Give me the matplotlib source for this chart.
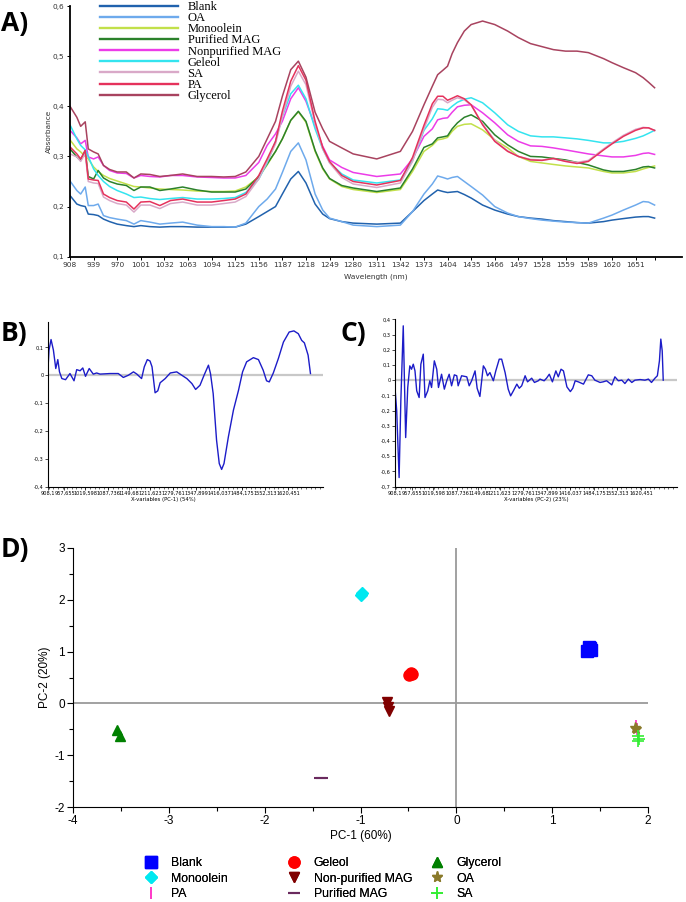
import numpy as np
import matplotlib.pyplot as plt
from matplotlib.ticker import MultipleLocator

plt.rcParams['axes.unicode_minus'] = False

# ---------- A) NIR spectra ----------
wl = [908, 917, 922, 928, 932, 939, 945, 952, 960, 970, 982, 992, 1001, 1013, 1026, 1040,
      1056, 1075, 1094, 1110, 1125, 1139, 1156, 1167, 1178, 1187, 1198, 1208, 1218, 1230,
      1240, 1249, 1265, 1280, 1311, 1342, 1358, 1373, 1384, 1391, 1398, 1404, 1410, 1417,
      1426, 1435, 1450, 1466, 1483, 1497, 1513, 1528, 1543, 1559, 1574, 1589, 1609, 1620,
      1635, 1651, 1661, 1668, 1676]

blank = [0.222, 0.205, 0.202, 0.200, 0.185, 0.184, 0.182, 0.175, 0.170, 0.165,
         0.162, 0.160, 0.162, 0.160, 0.159, 0.160, 0.160, 0.159, 0.159, 0.159,
         0.159, 0.165, 0.180, 0.190, 0.200, 0.225, 0.255, 0.270, 0.247, 0.205,
         0.185, 0.176, 0.170, 0.167, 0.165, 0.167, 0.190, 0.212, 0.225, 0.233,
         0.230, 0.228, 0.229, 0.230, 0.224, 0.217, 0.203, 0.193, 0.185, 0.180,
         0.177, 0.175, 0.172, 0.170, 0.168, 0.167, 0.170, 0.173, 0.176, 0.179,
         0.180, 0.180, 0.177]
oa = [0.251, 0.232, 0.225, 0.239, 0.202, 0.202, 0.205, 0.182, 0.178, 0.175,
      0.172, 0.165, 0.172, 0.169, 0.165, 0.167, 0.169, 0.163, 0.160, 0.160,
      0.159, 0.167, 0.200, 0.215, 0.235, 0.268, 0.310, 0.327, 0.293, 0.225,
      0.193, 0.177, 0.170, 0.163, 0.160, 0.163, 0.190, 0.225, 0.245, 0.261,
      0.258, 0.255, 0.258, 0.260, 0.250, 0.240, 0.223, 0.200, 0.187, 0.180,
      0.176, 0.173, 0.171, 0.169, 0.168, 0.167, 0.177, 0.183, 0.193, 0.203,
      0.210, 0.209, 0.203]
monoolein = [0.333, 0.315, 0.309, 0.300, 0.295, 0.279, 0.270, 0.262, 0.256, 0.251,
             0.245, 0.240, 0.239, 0.237, 0.235, 0.234, 0.233, 0.231, 0.230, 0.230,
             0.231, 0.239, 0.259, 0.283, 0.310, 0.335, 0.372, 0.389, 0.368, 0.310,
             0.275, 0.255, 0.240, 0.234, 0.228, 0.234, 0.270, 0.310, 0.322, 0.333,
             0.335, 0.338, 0.350, 0.360, 0.364, 0.365, 0.353, 0.333, 0.317, 0.300,
             0.290, 0.287, 0.284, 0.281, 0.279, 0.277, 0.270, 0.267, 0.267, 0.270,
             0.275, 0.278, 0.281]
purified = [0.315, 0.299, 0.292, 0.312, 0.260, 0.255, 0.272, 0.257, 0.250, 0.245,
            0.242, 0.232, 0.239, 0.239, 0.232, 0.235, 0.239, 0.233, 0.229, 0.229,
            0.229, 0.235, 0.260, 0.285, 0.310, 0.335, 0.372, 0.390, 0.370, 0.312,
            0.277, 0.256, 0.242, 0.237, 0.230, 0.237, 0.275, 0.318, 0.325, 0.337,
            0.339, 0.341, 0.355, 0.367, 0.378, 0.383, 0.370, 0.343, 0.323, 0.310,
            0.300, 0.299, 0.296, 0.293, 0.288, 0.283, 0.273, 0.270, 0.270, 0.274,
            0.279, 0.280, 0.277]
nonpurified = [0.352, 0.337, 0.325, 0.332, 0.299, 0.295, 0.299, 0.282, 0.272, 0.267,
               0.266, 0.257, 0.262, 0.260, 0.259, 0.262, 0.262, 0.259, 0.258, 0.257,
               0.257, 0.262, 0.288, 0.322, 0.345, 0.370, 0.415, 0.437, 0.410, 0.360,
               0.320, 0.293, 0.278, 0.268, 0.260, 0.265, 0.295, 0.340, 0.355, 0.373,
               0.376, 0.377, 0.388, 0.399, 0.402, 0.403, 0.387, 0.367, 0.343, 0.330,
               0.321, 0.320, 0.317, 0.313, 0.309, 0.305, 0.301, 0.299, 0.299, 0.302,
               0.306, 0.307, 0.304]
geleol = [0.363, 0.335, 0.322, 0.313, 0.300, 0.275, 0.262, 0.250, 0.240, 0.232,
          0.225, 0.218, 0.219, 0.216, 0.214, 0.216, 0.218, 0.215, 0.215, 0.216,
          0.218, 0.228, 0.255, 0.287, 0.330, 0.380, 0.425, 0.442, 0.415, 0.355,
          0.315, 0.288, 0.265, 0.253, 0.247, 0.253, 0.292, 0.352, 0.375, 0.395,
          0.394, 0.392, 0.400, 0.408, 0.414, 0.417, 0.407, 0.387, 0.363, 0.350,
          0.341, 0.339, 0.339, 0.337, 0.335, 0.332, 0.327, 0.327, 0.330, 0.336,
          0.341, 0.346, 0.352]
sa = [0.305, 0.299, 0.290, 0.306, 0.250, 0.247, 0.246, 0.219, 0.212, 0.206,
      0.203, 0.189, 0.203, 0.203, 0.196, 0.206, 0.209, 0.203, 0.203, 0.206,
      0.209, 0.220, 0.255, 0.290, 0.325, 0.380, 0.440, 0.470, 0.443, 0.365,
      0.315, 0.287, 0.258, 0.245, 0.238, 0.247, 0.290, 0.355, 0.398, 0.414,
      0.413, 0.407, 0.412, 0.417, 0.413, 0.402, 0.365, 0.332, 0.311, 0.300,
      0.294, 0.293, 0.295, 0.291, 0.288, 0.292, 0.315, 0.327, 0.342, 0.354,
      0.358, 0.357, 0.351]
pa = [0.319, 0.305, 0.295, 0.312, 0.255, 0.253, 0.252, 0.225, 0.218, 0.212,
      0.209, 0.195, 0.209, 0.210, 0.202, 0.212, 0.215, 0.209, 0.209, 0.212,
      0.215, 0.225, 0.262, 0.295, 0.330, 0.390, 0.450, 0.481, 0.452, 0.370,
      0.318, 0.290, 0.262, 0.250, 0.243, 0.252, 0.298, 0.362, 0.405, 0.420,
      0.420, 0.412, 0.416, 0.421, 0.415, 0.403, 0.363, 0.330, 0.310, 0.300,
      0.293, 0.292, 0.296, 0.290, 0.286, 0.290, 0.313, 0.325, 0.340, 0.352,
      0.357, 0.357, 0.352]
glycerol = [0.400, 0.378, 0.360, 0.369, 0.315, 0.309, 0.305, 0.282, 0.274, 0.269,
            0.269, 0.257, 0.265, 0.264, 0.260, 0.262, 0.265, 0.260, 0.260, 0.259,
            0.260, 0.269, 0.300, 0.335, 0.370, 0.420, 0.473, 0.490, 0.458, 0.388,
            0.355, 0.330, 0.317, 0.305, 0.295, 0.310, 0.350, 0.403, 0.440, 0.463,
            0.472, 0.480, 0.505, 0.527, 0.550, 0.563, 0.570, 0.563, 0.550, 0.537,
            0.525, 0.519, 0.513, 0.510, 0.510, 0.507, 0.495, 0.487, 0.477, 0.467,
            0.457, 0.448, 0.437]

spec_names = ['Blank', 'OA', 'Monoolein', 'Purified MAG', 'Nonpurified MAG',
              'Geleol', 'SA', 'PA', 'Glycerol']
spec_colors = ['#2162ad', '#6eaaec', '#c2e04a', '#2b812b', '#ec3ce8',
               '#34e4ef', '#d9a9c8', '#e5325c', '#a8435f']
wl_ticks = [908, 939, 970, 1001, 1032, 1063, 1094, 1125, 1156, 1187, 1218, 1249, 1280,
            1311, 1342, 1373, 1404, 1435, 1466, 1497, 1528, 1559, 1589, 1620, 1651]

# ---------- B) PC-1 loadings ----------
pc1_wl = [908.1, 912, 918, 925, 932, 938, 943, 950, 961, 974, 986, 994, 1004, 1012, 1020,
          1031, 1043, 1053, 1063, 1093, 1117, 1132, 1147, 1162, 1172, 1186, 1194, 1203,
          1211, 1217, 1226, 1234, 1241, 1256, 1271, 1290, 1305, 1320, 1335, 1346, 1359,
          1371, 1384, 1390, 1398, 1408, 1416, 1423, 1430, 1443, 1458, 1473, 1485, 1497,
          1517, 1532, 1546, 1556, 1564, 1576, 1591, 1606, 1623, 1637, 1650, 1660, 1668,
          1679, 1686]
pc1_load = [0.006, 0.09, 0.128, 0.09, 0.024, 0.056, 0.012, -0.012, -0.016, 0.006,
            -0.02, 0.02, 0.016, 0.026, -0.004, 0.024, 0.004, 0.008, 0.004, 0.006,
            0.006, -0.008, 0.0, 0.012, 0.004, -0.012, 0.03, 0.056, 0.051, 0.03,
            -0.063, -0.056, -0.027, -0.012, 0.008, 0.012, 0.0, -0.012, -0.03, -0.051,
            -0.036, 0.0, 0.036, 0.006, -0.066, -0.233, -0.317, -0.338, -0.317, -0.221,
            -0.125, -0.054, 0.012, 0.048, 0.063, 0.056, 0.018, -0.02, -0.024, 0.008,
            0.06, 0.119, 0.155, 0.159, 0.149, 0.125, 0.116, 0.072, 0.006]

# ---------- C) PC-2 loadings ----------
pc2_wl = [908, 913, 920, 925, 932, 939, 945, 951, 956, 961, 966, 971, 978, 983, 990, 995,
          1003, 1009, 1014, 1022, 1029, 1034, 1043, 1051, 1058, 1065, 1072, 1080, 1087,
          1091, 1101, 1116, 1123, 1130, 1140, 1146, 1154, 1164, 1170, 1176, 1183, 1193,
          1200, 1210, 1217, 1227, 1236, 1243, 1251, 1261, 1268, 1275, 1285, 1292, 1304,
          1312, 1323, 1328, 1340, 1347, 1355, 1364, 1374, 1381, 1389, 1396, 1406, 1416,
          1423, 1430, 1439, 1454, 1468, 1478, 1487, 1502, 1511, 1521, 1536, 1545, 1555,
          1565, 1574, 1584, 1594, 1603, 1618, 1632, 1642, 1651, 1661, 1668, 1674, 1678,
          1682, 1685]
pc2_load = [-0.048, -0.2, -0.64, -0.136, 0.357, -0.377, -0.048, 0.094, 0.072, 0.105,
            0.061, -0.07, -0.114, 0.105, 0.171, -0.114, -0.07, -0.004, -0.048, 0.127,
            0.072, -0.048, 0.039, -0.059, -0.004, 0.039, -0.037, 0.035, 0.029, -0.037,
            0.029, 0.022, -0.037, -0.004, 0.061, -0.053, -0.107, 0.094, 0.072, 0.029,
            0.05, -0.004, 0.061, 0.138, 0.138, 0.05, -0.059, -0.103, -0.07, -0.026,
            -0.053, -0.037, 0.029, -0.011, 0.013, -0.015, -0.004, 0.007, -0.004, 0.013,
            0.039, -0.011, 0.061, 0.022, 0.072, 0.061, -0.044, -0.075, -0.053, -0.004,
            -0.011, -0.026, 0.035, 0.029, 0.0, -0.015, -0.011, -0.004, -0.031, 0.022,
            -0.004, 0.0, -0.022, 0.007, -0.015, 0.0, 0.004, 0.0, 0.007, -0.015,
            0.013, 0.029, 0.127, 0.27, 0.193, 0.0]

load_ticks = [908.1, 957.655, 1019.598, 1087.736, 1149.68, 1211.623, 1279.761,
              1347.899, 1416.037, 1484.175, 1552.313, 1620.451]
load_ticklabels = ['908,1', '957,655', '1019,598', '1087,736', '1149,68', '1211,623',
                   '1279,761', '1347,899', '1416,037', '1484,175', '1552,313', '1620,451']

# ---------- D) PCA scores ----------
sc_blank = [[1.36, 1.39, 1.38, 1.40], [1.02, 1.06, 1.09, 1.04]]
sc_monoolein = [[-0.99, -0.98], [2.10, 2.14]]
sc_pa = [[1.87, 1.88], [-0.44, -0.50]]
sc_geleol = [[-0.49, -0.47, -0.46], [0.55, 0.58, 0.57]]
sc_nonpurified = [[-0.72, -0.71, -0.70], [0.03, -0.06, -0.14]]
sc_purified = [[-1.42, -1.40], [-1.44, -1.44]]
sc_glycerol = [[-3.54, -3.51], [-0.51, -0.62]]
sc_oa = [[1.86, 1.87], [-0.47, -0.50]]
sc_sa = [[1.90, 1.91, 1.90], [-0.62, -0.68, -0.73]]

W, H = 686, 902


def box(l, t, r, b):
    return [l / W, 1 - b / H, (r - l) / W, (b - t) / H]


def fx(px):
    return px / W


def fy(py):
    return 1 - py / H


def comma(v, nd=1):
    if abs(v) < 1e-9:
        return '0'
    return ('%.*f' % (nd, v)).replace('.', ',')


fig = plt.figure(figsize=(W / 100, H / 100), dpi=100)

# ---- panel A ----
axA = fig.add_axes(box(70, 6, 682, 256.7))
series = [blank, oa, monoolein, purified, nonpurified, geleol, sa, pa, glycerol]
for name, ys, c in zip(spec_names, series, spec_colors):
    axA.plot(wl, ys, color=c, lw=1.1, label=name)
axA.set_xlim(908, 1712)
axA.set_ylim(0.1, 0.6)
for s in ['top', 'right']:
    axA.spines[s].set_visible(False)
for s in ['left', 'bottom']:
    axA.spines[s].set_linewidth(1.3)
axA.set_xticks(wl_ticks + [1676])
axA.set_xticklabels([str(t) for t in wl_ticks] + [''])
yt = [0.1, 0.2, 0.3, 0.4, 0.5, 0.6]
axA.set_yticks(yt)
axA.set_yticklabels([comma(v) for v in yt])
axA.tick_params(labelsize=5.3, length=2.5, width=0.7, pad=1.5, labelcolor='#333333')
fig.text(fx(49), fy(131), 'Absorbance', rotation=90, ha='center', va='center',
         fontsize=5.3, color='#333333')
fig.text(fx(376), fy(277), 'Wavelength (nm)', ha='center', va='center',
         fontsize=5.3, color='#333333')
legA = axA.legend(loc='upper left', bbox_to_anchor=(fx(100), fy(1)),
                  bbox_transform=fig.transFigure,
                  frameon=False, prop={'family': 'Liberation Serif', 'size': 9},
                  handlelength=6.2, handletextpad=0.8, labelspacing=-0.07,
                  borderpad=0, borderaxespad=0)
for ln in legA.get_lines():
    ln.set_linewidth(1.7)


# ---- panels B and C ----
def loading_panel(rect, xs, ys, ylim, yticks, xlabel, xlabel_x):
    ax = fig.add_axes(rect)
    ax.axhline(0, color='#c8c8c8', lw=1.6, zorder=1)
    ax.plot(xs, ys, color='#1c1cc8', lw=1.0, zorder=2)
    ax.set_xlim(908.1, 1724)
    ax.set_ylim(*ylim)
    for s in ['top', 'right']:
        ax.spines[s].set_visible(False)
    for s in ['left', 'bottom']:
        ax.spines[s].set_linewidth(0.8)
    ax.set_xticks(load_ticks)
    ax.set_xticklabels(load_ticklabels, family=['Liberation Sans Narrow', 'DejaVu Sans'])
    ax.xaxis.set_minor_locator(MultipleLocator(13.6))
    ax.set_yticks(yticks)
    ax.set_yticklabels([comma(v) for v in yticks], family=['Liberation Sans Narrow', 'DejaVu Sans'])
    ax.tick_params(labelsize=3.6, length=2, width=0.5, pad=1)
    ax.tick_params(which='minor', length=1.5, width=0.4)
    fig.text(fx(xlabel_x), fy(499), xlabel, ha='center', va='center', fontsize=3.8,
             family=['Liberation Sans Narrow', 'DejaVu Sans'])
    return ax


loading_panel(box(47.7, 321.7, 323.3, 486.7), pc1_wl, pc1_load, (-0.4, 0.192),
              [-0.4, -0.3, -0.2, -0.1, 0.0, 0.1], 'X-variables (PC-1) (54%)', 163)
loading_panel(box(395, 319.3, 676.7, 486.7), pc2_wl, pc2_load, (-0.7, 0.4),
              [-0.7, -0.6, -0.5, -0.4, -0.3, -0.2, -0.1, 0.0, 0.1, 0.2, 0.3, 0.4],
              'X-variables (PC-2) (23%)', 536)

# ---- panel D ----
axD = fig.add_axes(box(73, 548, 648, 807))
axD.axhline(0, color='#9a9a9a', lw=1.3, zorder=1)
axD.axvline(0, color='#9a9a9a', lw=1.3, zorder=1)
groups = [
    ('Blank', sc_blank, 's', '#0000ff', 8, 1),
    ('Monoolein', sc_monoolein, 'D', '#00e8f0', 6, 1),
    ('PA', sc_pa, '|', '#ff3cc8', 9, 1.3),
    ('Geleol', sc_geleol, 'o', '#ff0000', 8, 1),
    ('Non-purified MAG', sc_nonpurified, 'v', '#800000', 7.5, 1),
    ('Purified MAG', sc_purified, '_', '#6a2a5e', 8, 1.5),
    ('Glycerol', sc_glycerol, '^', '#008000', 7.5, 1),
    ('OA', sc_oa, '*', '#8a7a2a', 8, 1),
    ('SA', sc_sa, '+', '#33ee33', 8, 1.2),
]
handles = []
for name, (xs, ys), m, c, ms, mew in groups:
    h, = axD.plot(xs, ys, ls='none', marker=m, color=c, ms=ms, mew=mew, label=name)
    handles.append(h)
axD.set_xlim(-4, 2)
axD.set_ylim(-2, 3)
for s in ['top', 'right']:
    axD.spines[s].set_visible(False)
axD.xaxis.set_major_locator(MultipleLocator(1))
axD.xaxis.set_minor_locator(MultipleLocator(0.5))
axD.yaxis.set_major_locator(MultipleLocator(1))
axD.yaxis.set_minor_locator(MultipleLocator(0.5))
axD.tick_params(labelsize=8.5, length=4, width=0.8, pad=2)
axD.tick_params(which='minor', length=3, width=0.8)
for lab in axD.get_xticklabels() + axD.get_yticklabels():
    lab.set_family('Liberation Sans')
axD.set_xlabel('PC-1 (60%)', fontsize=8.5, family='Liberation Sans', labelpad=2)
axD.set_ylabel('PC-2 (20%)', fontsize=8.5, family='Liberation Sans', labelpad=2)

col_x = [145, 288, 431]
for k in range(3):
    leg = fig.legend(handles=handles[3 * k:3 * k + 3], loc='upper left',
                     bbox_to_anchor=(fx(col_x[k]), fy(857)), frameon=False,
                     prop={'family': 'Liberation Sans', 'size': 8.8}, numpoints=1,
                     handlelength=1.0, handletextpad=1.1, labelspacing=0.3,
                     borderpad=0, borderaxespad=0)
    fig.add_artist(leg)

# ---- panel letters ----
for lab, x, y in [('A)', 1, 23), ('B)', 1, 333), ('C)', 341, 333), ('D)', 1, 550)]:
    fig.text(fx(x), fy(y), lab, ha='left', va='center', fontsize=19,
             fontweight='bold', family=['Open Sans', 'DejaVu Sans'])

fig.savefig('out.png', dpi=100)
